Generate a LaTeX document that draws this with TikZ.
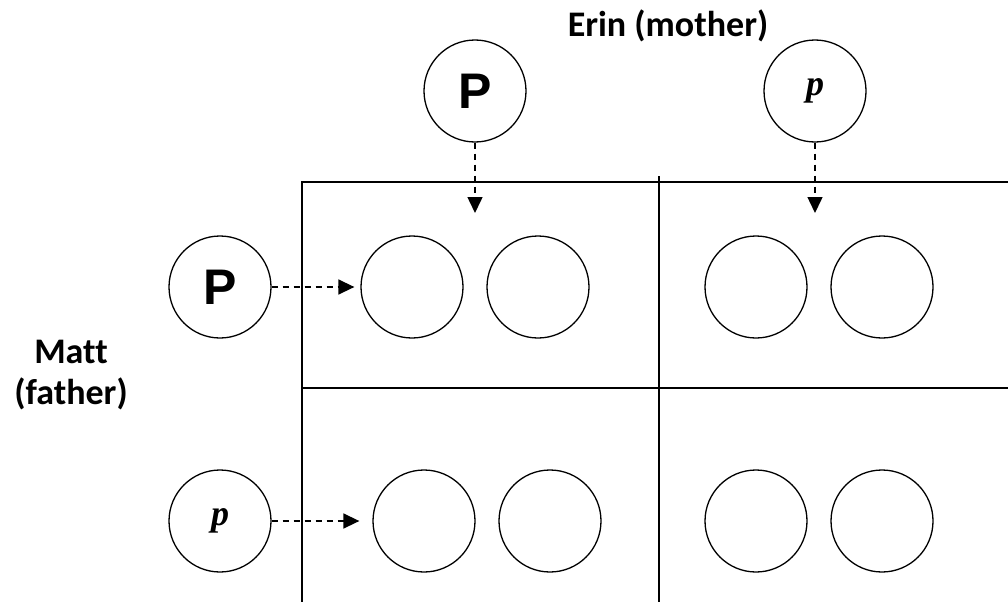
\documentclass[tikz,border=0pt]{standalone}
\usepackage{fontspec}
\setmainfont[Ligatures={NoCommon}]{Carlito}
\newfontfamily\arialf{Liberation Sans}
\newfontfamily\serifp{Liberation Serif}
\usetikzlibrary{arrows.meta}
\begin{document}
\begin{tikzpicture}[x=1pt,y=-1pt,
  allele/.style={circle, draw, line width=1.3pt, minimum size=102pt, inner sep=0pt},
  cellc/.style={circle, draw, line width=1.3pt, minimum size=102pt, inner sep=0pt},
  gridline/.style={line width=2pt},
  darrow/.style={line width=1.5pt, dash pattern=on 6pt off 5pt, -{Triangle[length=16pt,width=15pt]}},
  lab/.style={font=\fontsize{36}{41}\selectfont\bfseries, align=center, inner sep=0pt},
  bigP/.style={font=\arialf\fontsize{50}{50}\selectfont\bfseries},
  smallp/.style={font=\serifp\fontsize{36}{36}\selectfont\bfseries\itshape}]
\useasboundingbox (0,0) rectangle (1008,602);
% grid
\coordinate (g1) at (302,182);
\coordinate (g2) at (1008,182);
\coordinate (g3) at (302,602);
\coordinate (g4) at (659,176);
\coordinate (g5) at (659,602);
\coordinate (g6) at (302,388);
\coordinate (g7) at (1008,388);
\draw[gridline] (g2) -- (g1) -- (g3);
\draw[gridline] (g4) -- (g5);
\draw[gridline] (g6) -- (g7);
% labels
\node[lab, anchor=base] (erin) at (668,37) {Erin (mother)};
\node[lab] (matt) at (71,375) {Matt\\(father)};
% parent alleles
\node[allele, bigP] (mP) at (475,91) {P};
\node[allele, smallp] (mp) at (815,91) {p};
\node[allele, bigP] (fP) at (220,287) {P};
\node[allele, smallp] (fp) at (220,521) {p};
% cell circles
\node[cellc] (c11) at (412,287) {};
\node[cellc] (c12) at (538,287) {};
\node[cellc] (c13) at (756,287) {};
\node[cellc] (c14) at (882,287) {};
\node[cellc] (c21) at (424,521) {};
\node[cellc] (c22) at (550,521) {};
\node[cellc] (c23) at (756,521) {};
\node[cellc] (c24) at (882,521) {};
% arrows
\coordinate (mPt) at (475,213);
\coordinate (mpt) at (815,213);
\draw[darrow] (mP) -- (mPt);
\draw[darrow] (mp) -- (mpt);
\draw[darrow, shorten >=6pt] (fP) -- (c11);
\draw[darrow, shorten >=13pt] (fp) -- (c21);
\end{tikzpicture}
\end{document}
